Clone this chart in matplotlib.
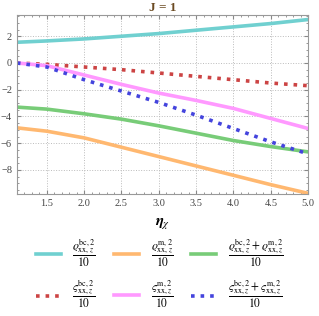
import matplotlib
matplotlib.use("Agg")
import matplotlib.pyplot as plt
from matplotlib.ticker import MultipleLocator

plt.rcParams['font.family'] = ['Liberation Serif', 'DejaVu Serif']
plt.rcParams['mathtext.fontset'] = 'stix'

eta = [1.1, 1.5, 2.0, 2.5, 3.0, 3.5, 4.0, 4.5, 5.0]
rho_bc = [1.55, 1.65, 1.8, 2.0, 2.2, 2.45, 2.7, 2.95, 3.25]
rho_m = [-4.85, -5.1, -5.6, -6.3, -7.0, -7.7, -8.4, -9.1, -9.75]
rho_sum = [-3.3, -3.45, -3.8, -4.2, -4.7, -5.25, -5.8, -6.25, -6.65]
sig_bc = [0.0, -0.1, -0.3, -0.5, -0.75, -1.0, -1.25, -1.5, -1.7]
sig_m = [0.0, -0.2, -0.9, -1.6, -2.25, -2.8, -3.4, -4.15, -4.9]
sig_sum = [0.0, -0.3, -1.25, -2.1, -2.95, -3.9, -4.9, -5.9, -6.8]

labels = [
    r'$\dfrac{\varrho^{\mathrm{bc},2}_{\mathrm{xx},z}}{10}$',
    r'$\dfrac{\varrho^{\mathrm{m},2}_{\mathrm{xx},z}}{10}$',
    r'$\dfrac{\varrho^{\mathrm{bc},2}_{\mathrm{xx},z}+\varrho^{\mathrm{m},2}_{\mathrm{xx},z}}{10}$',
    r'$\dfrac{\varsigma^{\mathrm{bc},2}_{\mathrm{xx},z}}{10}$',
    r'$\dfrac{\varsigma^{\mathrm{m},2}_{\mathrm{xx},z}}{10}$',
    r'$\dfrac{\varsigma^{\mathrm{bc},2}_{\mathrm{xx},z}+\varsigma^{\mathrm{m},2}_{\mathrm{xx},z}}{10}$',
]
series = [rho_bc, rho_m, rho_sum, sig_bc, sig_m, sig_sum]
colors = ['#70d0d0', '#ffb870', '#78cc78', '#cc4444', '#ff99ff', '#4444dd']
styles = ['-', '-', '-', ':', '-', ':']

fig = plt.figure(figsize=(3.19, 3.16), dpi=100)
ax = fig.add_axes([0.053, 0.386, 0.913, 0.567])

handles = []
for y, c, ls in zip(series, colors, styles):
    ln, = ax.plot(eta, y, color=c, linestyle=ls, linewidth=2.6)
    handles.append(ln)

ax.set_xlim(1.1, 5.0)
ax.set_ylim(-9.8, 3.6)
ax.xaxis.set_major_locator(MultipleLocator(0.5))
ax.xaxis.set_minor_locator(MultipleLocator(0.1))
ax.yaxis.set_major_locator(MultipleLocator(2))
ax.yaxis.set_minor_locator(MultipleLocator(0.5))
ax.tick_params(which='both', direction='in', top=True, right=True,
               colors='#888888', labelcolor='#444444', labelsize=7.5)
ax.tick_params(which='major', length=3)
ax.tick_params(which='minor', length=1.5)
ax.grid(True, which='major', linestyle=':', color='#bbbbbb', linewidth=0.7)
for s in ax.spines.values():
    s.set_color('#999999')

ax.set_title('J = 1', fontsize=9.5, color='#6b4a22', fontweight='bold', pad=3)
ax.set_xlabel(r'$\boldsymbol{\eta}_{\chi}$', fontsize=11, labelpad=6)

order = [0, 3, 1, 4, 2, 5]
fig.legend([handles[i] for i in order], [labels[i] for i in order],
           ncol=3, loc='lower center', bbox_to_anchor=(0.5, -0.015),
           frameon=False, fontsize=8.3, handlelength=2.2,
           columnspacing=1.5, labelspacing=0.85, handletextpad=1.0)

fig.savefig('out.png', dpi=100)
